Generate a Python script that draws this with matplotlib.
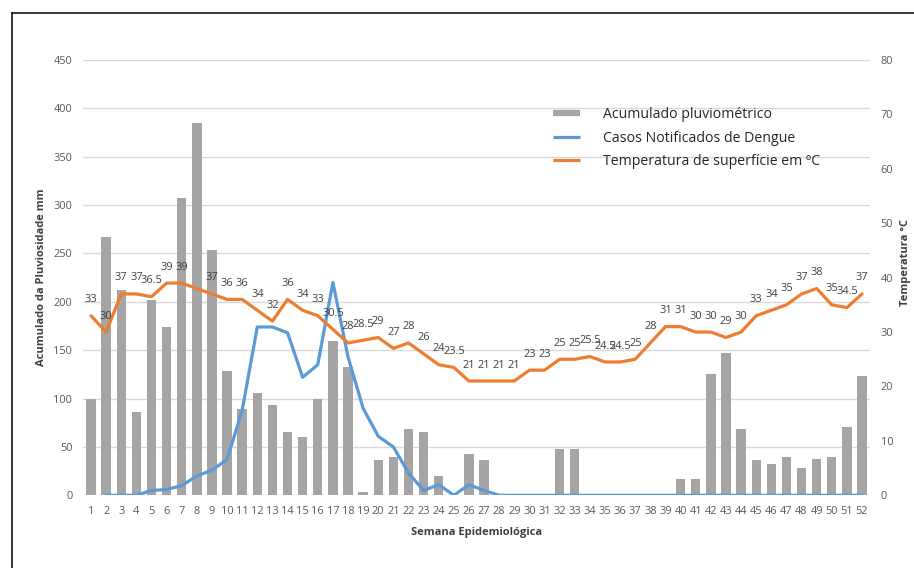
import numpy as np
import matplotlib
matplotlib.use("Agg")
import matplotlib.pyplot as plt
from matplotlib.lines import Line2D

plt.rcParams['font.family'] = ['Open Sans', 'DejaVu Sans']

weeks = list(range(1, 53))

rainfall_mm = [100, 267, 212, 86, 202, 174, 307, 385, 254, 129,
               89, 106, 93, 65, 60, 100, 159, 133, 3, 37,
               40, 69, 65, 20, 0, 43, 37, 0, 0, 0,
               0, 48, 48, 0, 0, 0, 0, 0, 0, 17,
               17, 125, 147, 69, 36, 32, 40, 28, 38, 40,
               71, 123]

dengue_cases = [np.nan, 0, 0, 0, 5, 6, 10, 20, 26, 37,
                88, 174, 174, 168, 122, 135, 220, 143, 90, 61,
                50, 23, 5, 11, 0, 11, 5, 0, 0, 0,
                0, 0, 0, 0, 0, 0, 0, 0, 0, 0,
                0, 0, 0, 0, 0, 0, 0, 0, 0, 0,
                0, 0]

temperature_c = [33, 30, 37, 37, 36.5, 39, 39, 38, 37, 36,
                 36, 34, 32, 36, 34, 33, 30.5, 28, 28.5, 29,
                 27, 28, 26, 24, 23.5, 21, 21, 21, 21, 23,
                 23, 25, 25, 25.5, 24.5, 24.5, 25, 28, 31, 31,
                 30, 30, 29, 30, 33, 34, 35, 37, 38, 35,
                 34.5, 37]

# weeks whose temperature value carries no data label
unlabeled_weeks = [8]

series_names = ["Acumulado pluviométrico",
                "Casos Notificados de Dengue",
                "Temperatura de superfície em ºC"]

GRAY = '#a5a5a5'
BLUE = '#5b9bd5'
ORANGE = '#ed7d31'
TICK = '#595959'
LABEL = '#404040'

fig = plt.figure(figsize=(9.14, 5.68), dpi=100)
ax = fig.add_axes([0.0913, 0.128, 0.8601, 0.7664])
ax2 = ax.twinx()

ax.bar(weeks, rainfall_mm, width=0.62, color=GRAY, zorder=2)
ax.plot(weeks, dengue_cases, color=BLUE, lw=2.3, zorder=3,
        solid_capstyle='round', solid_joinstyle='round')

ax.set_xlim(0.5, 52.5)
ax.set_ylim(0, 450)
ax.set_yticks(np.arange(0, 451, 50))
ax.set_xticks(weeks)
ax.yaxis.grid(True, color='#d9d9d9', lw=1.0, zorder=0)
ax.set_axisbelow(True)
for s in ax.spines.values():
    s.set_visible(False)
for s in ax2.spines.values():
    s.set_visible(False)
ax.tick_params(axis='both', length=0, colors=TICK, labelsize=7.9)
ax.tick_params(axis='y', pad=8)
ax.tick_params(axis='x', pad=8)

ax2.plot(weeks, temperature_c, color=ORANGE, lw=2.3, zorder=4,
         solid_capstyle='round', solid_joinstyle='round')
ax2.set_ylim(0, 80)
ax2.set_yticks(np.arange(0, 81, 10))
ax2.tick_params(axis='y', length=0, colors=TICK, labelsize=7.9, pad=8)

for w, t in zip(weeks, temperature_c):
    if w in unlabeled_weeks:
        continue
    ax2.annotate(f"{t:g}", (w, t), xytext=(0, 11.5), textcoords='offset points',
                 ha='center', va='center', fontsize=7.9, color=LABEL, zorder=5)

fig.text(0.045, 0.5115, "Acumulado da Pluviosidade mm", rotation=90,
         ha='center', va='center', fontsize=8, fontweight='bold', color=LABEL)
fig.text(0.991, 0.5385, "Temperatura °C", rotation=90,
         ha='center', va='center', fontsize=8, fontweight='bold', color=LABEL)
fig.text(0.521, 0.063, "Semana Epidemiológica",
         ha='center', va='center', fontsize=8, fontweight='bold', color=LABEL)

handles = [Line2D([], [], color=GRAY, lw=4.5, solid_capstyle='butt'),
           Line2D([], [], color=BLUE, lw=2.3, solid_capstyle='butt'),
           Line2D([], [], color=ORANGE, lw=2.3, solid_capstyle='butt')]
leg = fig.legend(handles, series_names, loc='upper left',
                 bbox_to_anchor=(0.605, 0.811), frameon=False,
                 fontsize=10.2, handlelength=1.9, handletextpad=1.62,
                 labelspacing=0.58, borderpad=0, borderaxespad=0)
for txt in leg.get_texts():
    txt.set_color('#262626')

# outer frame edges along the top and left
fig.add_artist(Line2D([12/914, 12/914], [0, 1 - 13/568], transform=fig.transFigure,
                      color='black', lw=1.1))
fig.add_artist(Line2D([12/914, 1], [1 - 13/568, 1 - 13/568], transform=fig.transFigure,
                      color='black', lw=1.1))

fig.savefig("out.png", dpi=100)
